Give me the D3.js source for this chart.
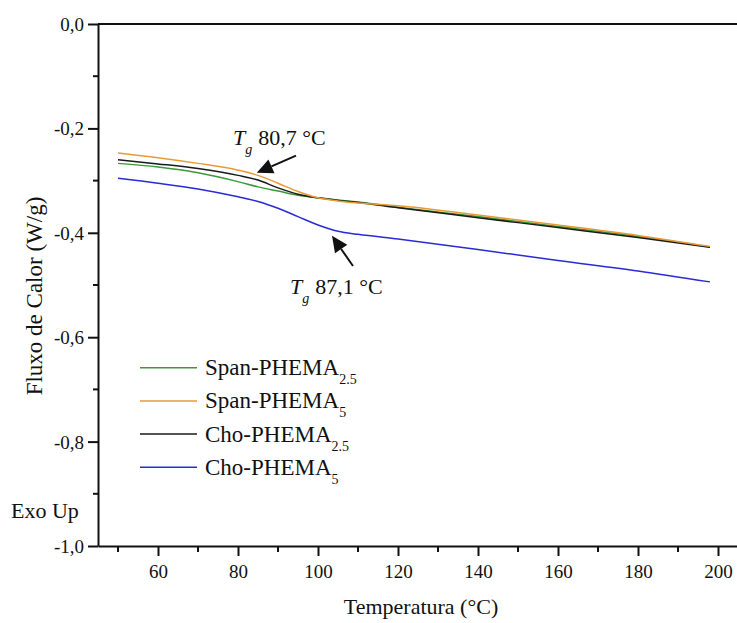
<!DOCTYPE html>
<html>
<head>
<meta charset="utf-8">
<script src="https://cdn.jsdelivr.net/npm/d3@7"></script>
<style>
  html, body { margin: 0; padding: 0; background: #fff; }
  svg { display: block; font-family: "Liberation Serif", "Times New Roman", serif; }
</style>
</head>
<body>
<svg id="chart" width="737" height="623"></svg>
<script>
// Temperature sampling points (°C)
const temperature = [50, 60, 70, 80, 85, 90, 95, 100, 105, 110, 120, 140, 160, 180, 198];

// Heat flow (W/g) for each sample
const spanPhema25 = [-0.267, -0.274, -0.285, -0.302, -0.312, -0.320, -0.328, -0.333, -0.337, -0.341, -0.351, -0.369, -0.388, -0.407, -0.427];
const spanPhema5  = [-0.247, -0.256, -0.267, -0.280, -0.290, -0.305, -0.321, -0.333, -0.339, -0.343, -0.348, -0.366, -0.385, -0.405, -0.426];
const choPhema25  = [-0.260, -0.268, -0.277, -0.290, -0.299, -0.314, -0.326, -0.333, -0.338, -0.342, -0.352, -0.371, -0.390, -0.409, -0.428];
const choPhema5   = [-0.2955, -0.305, -0.316, -0.331, -0.340, -0.353, -0.369, -0.385, -0.397, -0.403, -0.412, -0.432, -0.453, -0.473, -0.494];

// Series labels (base + subscript) and colours
const seriesNames = ["Span-PHEMA", "Span-PHEMA", "Cho-PHEMA", "Cho-PHEMA"];
const seriesSubs  = ["2.5", "5", "2.5", "5"];
const seriesColors = ["#3a9a3a", "#e89a36", "#1a1a1a", "#2a2ad8"];
const seriesValues = [spanPhema25, spanPhema5, choPhema25, choPhema5];

// Axis ticks
const xMajorTicks = [60, 80, 100, 120, 140, 160, 180, 200];
const xMinorTicks = [50, 70, 90, 110, 130, 150, 170, 190];
const yMajorTicks = [0, -0.2, -0.4, -0.6, -0.8, -1.0];
const yMinorTicks = [-0.1, -0.3, -0.5, -0.7, -0.9];

// Glass transition annotations
const tgLabels = ["80,7 °C", "87,1 °C"];
const tgText = [{ t: 78.75, v: -0.2327 }, { t: 93.0, v: -0.517 }];
const tgArrowTip = [{ t: 84.7, v: -0.285 }, { t: 103.5, v: -0.4058 }];
const tgArrowTail = [{ t: 94.5, v: -0.252 }, { t: 108.75, v: -0.4635 }];

const svg = d3.select("#chart");
const W = 737, H = 623;
const plotLeft = 98, plotTop = 24, plotBottom = 546;

const x = d3.scaleLinear().domain([45, 204.75]).range([plotLeft, W]);
const y = d3.scaleLinear().domain([-1.0, 0]).range([plotBottom, plotTop]);

const fmt = d => d3.format(".1f")(d).replace(".", ",").replace("−", "-");

// Top frame line
svg.append("line")
  .attr("x1", plotLeft).attr("x2", W).attr("y1", plotTop).attr("y2", plotTop)
  .attr("stroke", "#111").attr("stroke-width", 2);

// X axis
const xAxis = svg.append("g").attr("transform", `translate(0,${plotBottom})`)
  .call(d3.axisBottom(x).tickValues(xMajorTicks).tickSize(10).tickSizeOuter(0).tickPadding(9));
xAxis.append("g").selectAll("line").data(xMinorTicks).join("line")
  .attr("x1", d => x(d)).attr("x2", d => x(d)).attr("y1", 0).attr("y2", 6)
  .attr("stroke", "#111").attr("stroke-width", 2);

// Y axis
const yAxis = svg.append("g").attr("transform", `translate(${plotLeft},0)`)
  .call(d3.axisLeft(y).tickValues(yMajorTicks).tickFormat(fmt).tickSize(10).tickSizeOuter(0).tickPadding(4));
yAxis.append("g").selectAll("line").data(yMinorTicks).join("line")
  .attr("x1", 0).attr("x2", -5).attr("y1", d => y(d)).attr("y2", d => y(d))
  .attr("stroke", "#111").attr("stroke-width", 2);

[xAxis, yAxis].forEach(g => {
  g.select(".domain").attr("stroke", "#111").attr("stroke-width", 2);
  g.selectAll(".tick line").attr("stroke", "#111").attr("stroke-width", 2);
  g.selectAll(".tick text")
    .attr("font-family", "Liberation Serif, serif")
    .attr("font-size", 19).attr("fill", "#111");
});
yAxis.selectAll(".tick text").attr("dy", "0.34em");

// Data lines
const line = d3.line()
  .x((d, i) => x(temperature[i]))
  .y(d => y(d))
  .curve(d3.curveMonotoneX);

// Draw in order: blue, green, black, orange on top
[3, 0, 2, 1].forEach(k => {
  svg.append("path")
    .attr("d", line(seriesValues[k]))
    .attr("fill", "none")
    .attr("stroke", seriesColors[k])
    .attr("stroke-width", 1.5);
});

// Axis titles
svg.append("text")
  .attr("transform", `translate(42,296) rotate(-90)`)
  .attr("text-anchor", "middle")
  .attr("font-size", 23).attr("fill", "#111")
  .text("Fluxo de Calor (W/g)");

svg.append("text")
  .attr("x", 421).attr("y", 614)
  .attr("text-anchor", "middle")
  .attr("font-size", 22).attr("fill", "#111")
  .text("Temperatura (°C)");

svg.append("text")
  .attr("x", 11).attr("y", 518)
  .attr("font-size", 22).attr("fill", "#111")
  .text("Exo Up");

// Legend
const legendY0 = 367.7, legendStep = 33.2;
seriesNames.forEach((name, i) => {
  const ly = legendY0 + i * legendStep;
  svg.append("line")
    .attr("x1", 140).attr("x2", 197).attr("y1", ly).attr("y2", ly)
    .attr("stroke", seriesColors[i]).attr("stroke-width", 1.5);
  const t = svg.append("text")
    .attr("x", 205).attr("y", ly + 7.5)
    .attr("font-size", 23).attr("fill", "#111");
  t.append("tspan").text(name);
  t.append("tspan").attr("font-size", 14).attr("dy", 9).text(seriesSubs[i]);
});

// Tg annotations with arrows
tgLabels.forEach((lab, i) => {
  const tx = x(tgText[i].t), ty = y(tgText[i].v);
  const t = svg.append("text").attr("x", tx).attr("y", ty)
    .attr("font-size", 22).attr("fill", "#111");
  t.append("tspan").attr("font-style", "italic").text("T");
  t.append("tspan").attr("font-style", "italic").attr("font-size", 14).attr("dy", 9).text("g");
  t.append("tspan").attr("dy", -9).attr("dx", 6).text(lab);

  const x1 = x(tgArrowTail[i].t), y1 = y(tgArrowTail[i].v);
  const x2 = x(tgArrowTip[i].t), y2 = y(tgArrowTip[i].v);
  const ang = Math.atan2(y2 - y1, x2 - x1);
  const headLen = 16, headHalf = 7.5;
  const bx = x2 - headLen * Math.cos(ang), by = y2 - headLen * Math.sin(ang);
  svg.append("line")
    .attr("x1", x1).attr("y1", y1).attr("x2", bx).attr("y2", by)
    .attr("stroke", "#111").attr("stroke-width", 2);
  const px = -Math.sin(ang), py = Math.cos(ang);
  svg.append("polygon")
    .attr("points", [
      [x2, y2],
      [bx + px * headHalf, by + py * headHalf],
      [bx - px * headHalf, by - py * headHalf]
    ].map(p => p.join(",")).join(" "))
    .attr("fill", "#111");
});
</script>
</body>
</html>
